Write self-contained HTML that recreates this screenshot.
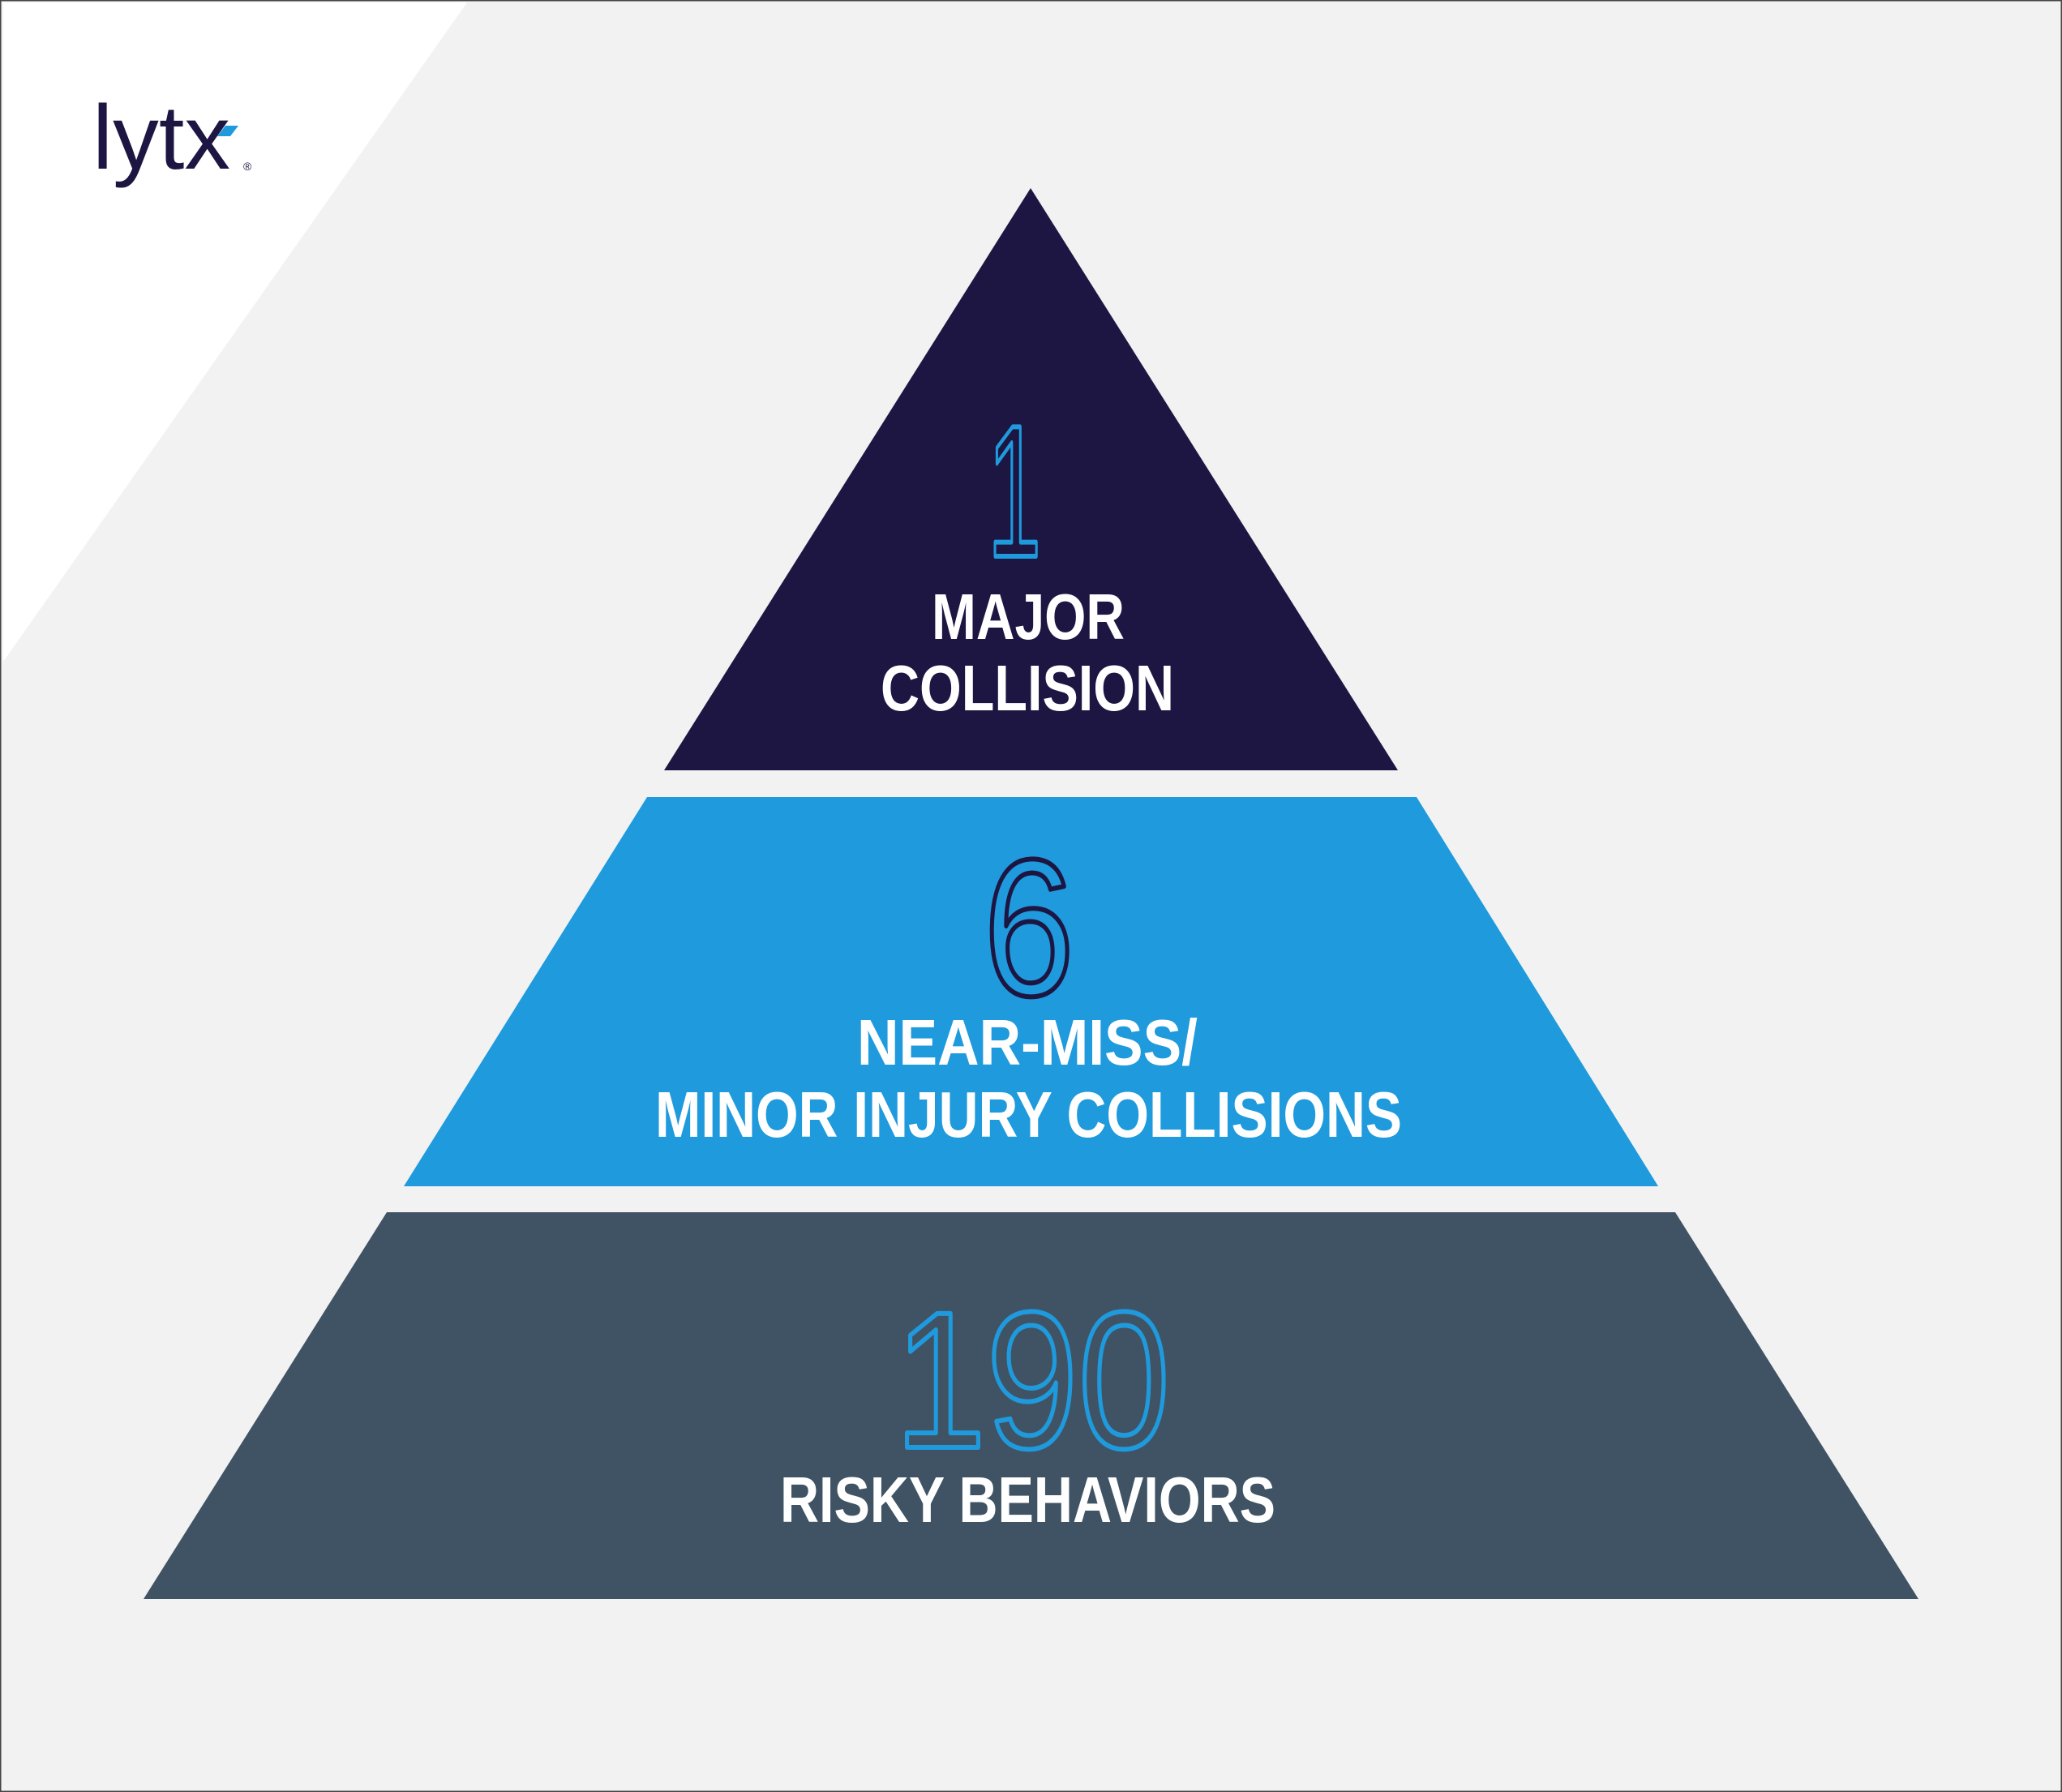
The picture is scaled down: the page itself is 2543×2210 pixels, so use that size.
<!DOCTYPE html>
<html><head><meta charset="utf-8"><style>
html,body{margin:0;padding:0;background:#f2f2f2;}
svg{display:block;}
</style></head><body>
<svg width="2543" height="2210" viewBox="0 0 2543 2210" xmlns="http://www.w3.org/2000/svg">
<rect x="0" y="0" width="2543" height="2210" fill="#f2f2f2"/>
<polygon points="4,3 576,3 4,816" fill="#ffffff"/>
<rect x="0.5" y="0.5" width="2542" height="2209" fill="none" stroke="#444" stroke-width="2"/>
<!-- logo -->
<text x="114" y="208" font-family="Liberation Sans, sans-serif" font-size="112" fill="#1d1642" textLength="170" lengthAdjust="spacingAndGlyphs">lytx</text>
<polygon points="278,155 294,155 284,168 268,168" fill="#1e9add"/>
<text x="300" y="210" font-family="Liberation Sans, sans-serif" font-size="14" fill="#1d1642">®</text>
<!-- pyramid -->
<polygon points="1271,232 1724,950 819,950" fill="#1d1642"/>
<polygon points="798,983 1747,983 2045,1463 498,1463" fill="#1e9add"/>
<polygon points="477,1495 2066,1495 2366,1972 177,1972" fill="#405364"/>
<g font-family="Liberation Sans, DejaVu Sans, sans-serif" stroke-linejoin="round" stroke-linecap="round">
<text x="1218" y="686" font-size="232" fill="none" stroke="#1e9add" stroke-width="6" textLength="66" lengthAdjust="spacingAndGlyphs">1</text>
<text x="1213" y="1227" font-size="240" fill="none" stroke="#1d1642" stroke-width="6" textLength="112" lengthAdjust="spacingAndGlyphs">6</text>
<text x="1103" y="1785" font-size="240" fill="none" stroke="#1e9add" stroke-width="6" textLength="340" lengthAdjust="spacingAndGlyphs">190</text>
<g fill="#ffffff" font-size="80" font-weight="bold" stroke="none">
<text x="1149" y="788" textLength="238" lengthAdjust="spacingAndGlyphs">MAJOR</text>
<text x="1086" y="876" textLength="362" lengthAdjust="spacingAndGlyphs">COLLISION</text>
<text x="1057" y="1313" textLength="420" lengthAdjust="spacingAndGlyphs">NEAR-MISS/</text>
<text x="808" y="1402" textLength="921" lengthAdjust="spacingAndGlyphs">MINOR INJURY COLLISIONS</text>
<text x="962" y="1877" textLength="611" lengthAdjust="spacingAndGlyphs">RISKY BEHAVIORS</text>
</g>
</g>
</svg>
</body></html>
